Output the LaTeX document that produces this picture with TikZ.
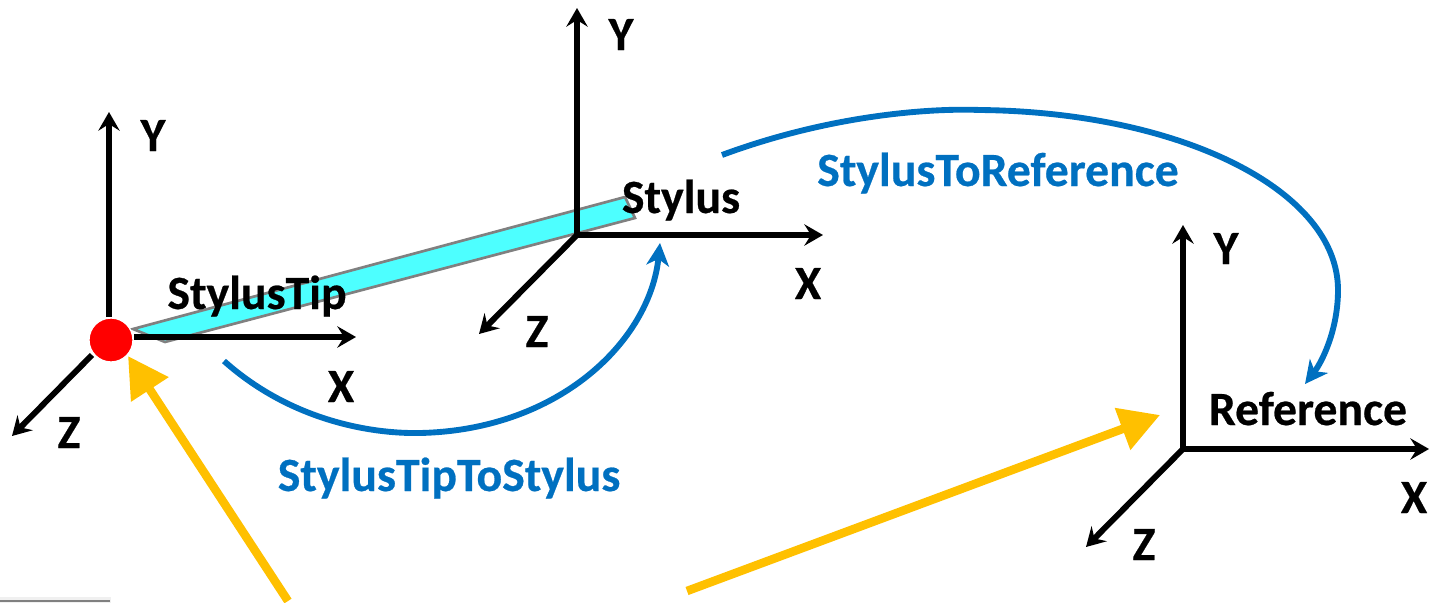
\documentclass[tikz,border=0pt]{standalone}
\usepackage{fontspec}
\setmainfont{Carlito}[BoldFeatures={FakeBold=0.5}]
\usetikzlibrary{arrows.meta}
\definecolor{bluearc}{HTML}{0070C0}
\definecolor{yellowarr}{HTML}{FFC000}
\definecolor{stylusfill}{HTML}{4DFFFF}
\tikzset{
  axis/.style={line width=4.4pt,black,-{Stealth[length=14pt,width=16pt,inset=5pt]}},
  bluecurve/.style={line width=4.4pt,bluearc,-{Stealth[length=17pt,width=17pt,inset=5pt]}},
  pointer/.style={line width=6.4pt,yellowarr,-{Triangle[length=30pt,width=32pt]}},
  lab/.style={anchor=base,inner sep=0pt,outer sep=0pt,font=\fontsize{35.8}{40}\selectfont\bfseries,text=black},
  arclab/.style={lab,text=bluearc},
}
\begin{document}
\begin{tikzpicture}[x=0.75pt,y=-0.75pt]
\useasboundingbox (0,0) rectangle (1431,603);
% corner remnant
\fill[black!6] (0,597) rectangle (111,603);
\draw[gray,line width=0.8pt] (0,601) -- (110,601);
% stylus body
\filldraw[fill=stylusfill,draw=gray,line width=2pt] (133,329) -- (625,197) -- (635,218) -- (165,342) -- cycle;
% origins and ends
\coordinate (tipO) at (109,337);
\coordinate (tipY) at (109,112);
\coordinate (tipYs) at (109,317);
\coordinate (tipX) at (356,337);
\coordinate (tipXs) at (134,337);
\coordinate (tipZ) at (12,436);
\coordinate (tipZs) at (92,355);
\coordinate (stO) at (577,235);
\coordinate (stY) at (577,8);
\coordinate (stX) at (823,235);
\coordinate (stZ) at (479,334);
\coordinate (refO) at (1183,449);
\coordinate (refY) at (1183,225);
\coordinate (refX) at (1429,449);
\coordinate (refZ) at (1086,547);
\draw[axis] (tipYs) -- (tipY);
\draw[axis] (tipXs) -- (tipX);
\draw[axis] (tipZs) -- (tipZ);
\draw[axis,line cap=round] (stO) -- (stY);
\draw[axis,line cap=round] (stO) -- (stX);
\draw[axis,line cap=round] (stO) -- (stZ);
\draw[axis,line cap=round] (refO) -- (refY);
\draw[axis,line cap=round] (refO) -- (refX);
\draw[axis,line cap=round] (refO) -- (refZ);
% tip ball
\node[circle,fill=red,draw=white,line width=1pt,minimum size=33pt,inner sep=0pt] (ball) at (111,340) {};
% blue arcs
\coordinate (a1s) at (224,361);
\coordinate (a1e) at (660,243);
\coordinate (a2s) at (722,155);
\coordinate (a2e) at (1305,384);
\draw[bluecurve] (a1s) .. controls (290,420) and (370,434) .. (420,433)
  .. controls (560,430) and (650,340) .. (a1e);
\draw[bluecurve] (a2s) .. controls (830,115) and (930,108) .. (980,110)
  .. controls (1180,112) and (1338,190) .. (1338,290)
  .. controls (1338,330) and (1322,362) .. (a2e);
% yellow arrows
\coordinate (y1s) at (288,601);
\coordinate (y1e) at (128,356);
\coordinate (y2s) at (687,591);
\coordinate (y2e) at (1160,415);
\draw[pointer] (y1s) -- (y1e);
\draw[pointer] (y2s) -- (y2e);
% labels
\node[lab] (l1) at (153,151) {Y};
\node[lab] (l2) at (341,402) {X};
\node[lab] (l3) at (69,448) {Z};
\node[lab] (l4) at (257,309) {StylusTip};
\node[lab] (l5) at (621,50) {Y};
\node[lab] (l6) at (681,213) {Stylus};
\node[lab] (l7) at (808,299) {X};
\node[lab] (l8) at (537,347) {Z};
\node[lab] (l9) at (1226,264) {Y};
\node[lab] (l10) at (1308,425) {Reference};
\node[lab] (l11) at (1414,513) {X};
\node[lab] (l12) at (1144,560) {Z};
\node[arclab] (l13) at (998,186) {StylusToReference};
\node[arclab] (l14) at (449,491) {StylusTipToStylus};
\end{tikzpicture}
\end{document}
